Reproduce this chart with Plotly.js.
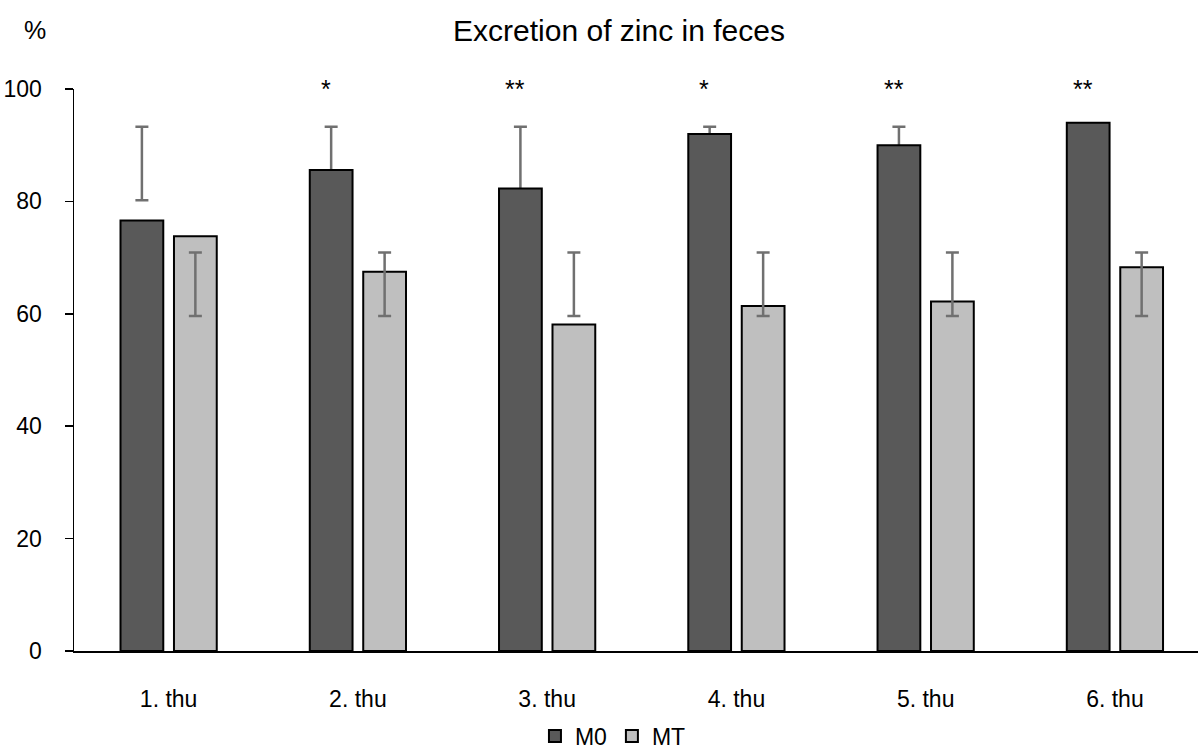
<!DOCTYPE html>
<html>
<head>
<meta charset="utf-8">
<script src="https://cdn.plot.ly/plotly-3.0.1.min.js"></script>
<style>html,body{margin:0;padding:0;overflow:hidden;background:#fff;}</style>
</head>
<body>
<div id="chart" style="width:1198px;height:750px;"></div>
<script>
const categories = ['1. thu', '2. thu', '3. thu', '4. thu', '5. thu', '6. thu'];
const m0Values = [76.6, 85.6, 82.3, 92.0, 90.0, 94.0];
const mtValues = [73.8, 67.5, 58.1, 61.4, 62.2, 68.3];
const m0ErrLow = [80.2, 80.2, 80.2, 80.2, 80.2, 80.2];
const m0ErrHigh = [93.3, 93.3, 93.3, 93.3, 93.3, 93.3];
const mtErrLow = [59.6, 59.6, 59.6, 59.6, 59.6, 59.6];
const mtErrHigh = [70.9, 70.9, 70.9, 70.9, 70.9, 70.9];
const significance = ['', '*', '**', '*', '**', '**'];

const FONT = '"Liberation Sans", Arial, sans-serif';
const errColor = '#707070';

function errTrace(low, high, group) {
  return {
    type: 'bar', x: categories,
    y: low.map((l, i) => (l + high[i]) / 2),
    offsetgroup: group,
    marker: {color: 'rgba(0,0,0,0)', line: {width: 0}},
    error_y: {type: 'data', symmetric: true, array: low.map((l, i) => (high[i] - l) / 2),
              color: errColor, thickness: 2.5, width: 6.5},
    showlegend: false, hoverinfo: 'skip'
  };
}

const traces = [
  errTrace(m0ErrLow, m0ErrHigh, 'M0'),
  {type: 'bar', name: 'M0', x: categories, y: m0Values, offsetgroup: 'M0',
   marker: {color: '#595959', line: {color: '#000', width: 2}}},
  {type: 'bar', name: 'MT', x: categories, y: mtValues, offsetgroup: 'MT',
   marker: {color: '#bfbfbf', line: {color: '#000', width: 2}}},
  errTrace(mtErrLow, mtErrHigh, 'MT')
];

const annotations = categories.map((c, i) => ({
  x: c, y: 100, xref: 'x', yref: 'y', text: significance[i], showarrow: false,
  xshift: -32, yanchor: 'middle', yshift: 0,
  font: {family: FONT, size: 25, color: '#000'}
})).filter(a => a.text);
annotations.push({
  xref: 'paper', yref: 'paper', x: -0.0347, y: 1.105, text: '%', showarrow: false,
  xanchor: 'center', yanchor: 'middle', font: {family: FONT, size: 25, color: '#000'}
});

const layout = {
  width: 1198, height: 750,
  margin: {l: 74, r: 0, t: 89, b: 99, autoexpand: false},
  paper_bgcolor: '#fff', plot_bgcolor: '#fff',
  barmode: 'group', bargap: 0.435, bargroupgap: 0.2,
  font: {family: FONT, size: 23, color: '#000'},
  title: {text: 'Excretion of zinc in feces', xref: 'container', yref: 'container',
          x: 0.5167, y: 1 - 30 / 750, xanchor: 'center', yanchor: 'middle',
          font: {family: FONT, size: 30, color: '#000'}},
  xaxis: {type: 'category', range: [-0.5, 5.439], showline: true, linecolor: '#000', linewidth: 1.5,
          ticks: '', showgrid: false, zeroline: false, tickfont: {family: FONT, size: 23},
          ticklabelstandoff: 27, automargin: false},
  yaxis: {range: [0, 100], tickvals: [0, 20, 40, 60, 80, 100], showline: true, linecolor: '#000',
          linewidth: 1.5, ticks: 'outside', ticklen: 8, tickwidth: 1.5, tickcolor: '#000',
          showgrid: false, zeroline: false, tickfont: {family: FONT, size: 23},
          ticklabelstandoff: 18, automargin: false},
  showlegend: true,
  legend: {orientation: 'h', x: 0.4795, xanchor: 'center', yref: 'paper', y: -0.1512,
           yanchor: 'middle', font: {family: FONT, size: 23}, traceorder: 'normal'},
  annotations: annotations
};

Plotly.newPlot('chart', traces, layout, {displayModeBar: false, staticPlot: true});
</script>
</body>
</html>
